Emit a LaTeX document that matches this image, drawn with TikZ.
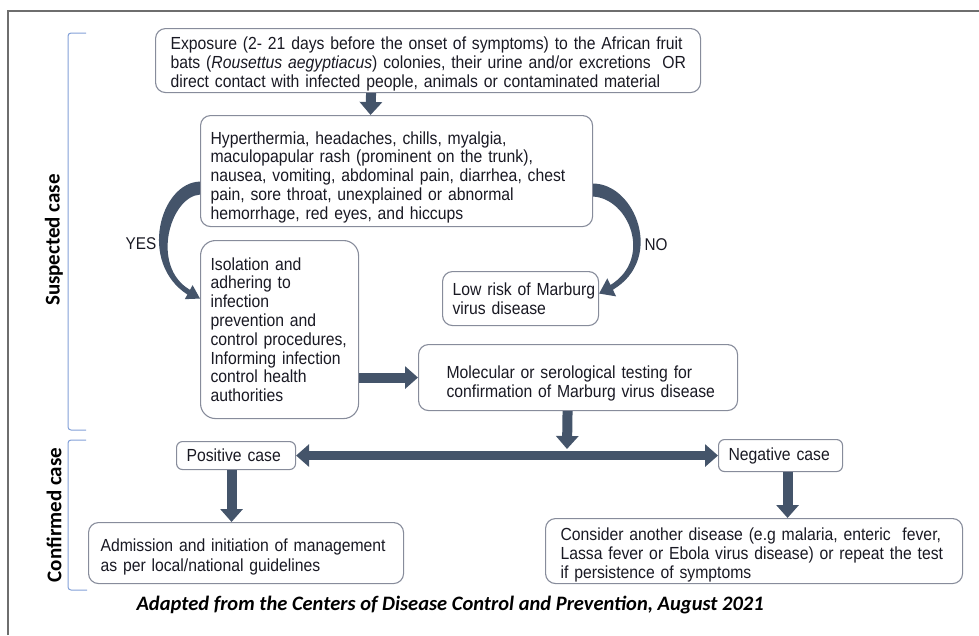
\documentclass[tikz,border=0pt]{standalone}
\usepackage{fontspec}
\setmainfont{Liberation Sans}[FakeStretch=0.90]
\newfontfamily\calib{Carlito}
\usetikzlibrary{arrows.meta,calc}
\definecolor{arr}{RGB}{68,84,106}
\definecolor{bord}{RGB}{135,140,155}
\definecolor{brk}{RGB}{130,160,215}
\definecolor{frm}{RGB}{110,110,110}
\definecolor{txt}{RGB}{25,25,35}
\newcommand\Ln[1]{\mbox{#1}}
\newcommand\Up[1]{\rule{0pt}{#1}}
\tikzset{
  box/.style={draw=bord, line width=1.1pt, rounded corners=10pt, anchor=north west,
    align=left, text=txt, font=\fontsize{17.5}{18.8}\selectfont, inner ysep=0pt},
  fat/.style={draw=arr, line width=10pt, -{Triangle[width=22pt,length=13pt]}},
  dfat/.style={draw=arr, line width=9pt, {Triangle[width=22pt,length=13pt]}-{Triangle[width=22pt,length=13pt]}},
  curv/.style={fill=arr, draw=none},
  brack/.style={draw=brk, line width=1pt, rounded corners=3pt},
  side/.style={rotate=90, text=black, font=\calib\bfseries\fontsize{21}{23}\selectfont},
  lab/.style={text=txt, font=\fontsize{17}{18}\selectfont}
}
\begin{document}
\begin{tikzpicture}[x=1pt,y=-1pt]
\useasboundingbox (0,0) rectangle (979,635);
\draw[frm, line width=2pt] (8,635) -- (8,11) -- (979,11);

% brackets and side labels
\draw[brack] (86,33) -- (68,33) -- (68,430) -- (86,430);
\draw[brack] (86,440) -- (68,440) -- (68,590) -- (87,590);
\node[side] (ls) at (54,240) {Suspected case};
\node[side] (lc) at (54,515) {Confirmed case};

% boxes
\node[box, inner xsep=15pt, text width=515pt, minimum height=64pt] (b1) at (155,28)
 {\Up{19pt}\Ln{Exposure (2- 21 days before the onset of symptoms) to the African fruit}\\
  \Ln{bats (\textit{Rousettus aegyptiacus}) colonies, their urine and/or excretions\ \ OR}\\
  \Ln{direct contact with infected people, animals or contaminated material}};
\node[box, inner xsep=10pt, text width=372pt, minimum height=111pt] (b2) at (200,115)
 {\Up{25pt}\Ln{Hyperthermia, headaches, chills, myalgia,}\\
  \Ln{maculopapular rash (prominent on the trunk),}\\
  \Ln{nausea, vomiting, abdominal pain, diarrhea, chest}\\
  \Ln{pain, sore throat, unexplained or abnormal}\\
  \Ln{hemorrhage, red eyes, and hiccups}};
\node[box, rounded corners=15pt, inner xsep=10pt, text width=138pt, minimum height=178pt] (b3) at (200,240)
 {\Ln{Isolation and}\\ \Ln{adhering to}\\ \Ln{infection}\\ \Ln{prevention and}\\
  \Ln{control procedures,}\\ \Ln{Informing infection}\\ \Ln{control health}\\ \Ln{authorities}};
\node[box, inner xsep=10pt, text width=136pt, minimum height=54pt] (b4) at (442,271)
 {\Ln{Low risk of Marburg}\\ \Ln{virus disease}};
\node[box, inner xsep=28pt, text width=263pt, minimum height=66pt] (b5) at (418,344)
 {\Up{25pt}\Ln{Molecular or serological testing for}\\ \Ln{confirmation of Marburg virus disease}};
\node[box, rounded corners=6pt, inner xsep=10pt, text width=99pt, minimum height=28pt] (pos) at (176,441)
 {\Ln{Positive case}};
\node[box, rounded corners=6pt, inner xsep=10pt, text width=104pt, minimum height=32pt] (neg) at (718,439)
 {\Ln{Negative case}};
\node[box, inner xsep=12pt, text width=291pt, minimum height=61pt,
      font=\fontsize{17.5}{20}\selectfont] (adm) at (88,522)
 {\Up{21pt}\Ln{Admission and initiation of management}\\ \Ln{as per local/national guidelines}};
\node[box, inner xsep=15pt, text width=387pt, minimum height=65pt] (con) at (545,518)
 {\Up{21pt}\Ln{Consider another disease (e.g malaria, enteric\ \ fever,}\\
  \Ln{Lassa fever or Ebola virus disease) or repeat the test}\\
  \Ln{if persistence of symptoms}};

% straight connectors
\draw[fat] ([xshift=-57pt]b1.south) -- ([xshift=-26pt]b2.north);
\draw[fat] (b3.east |- b5.west) -- (b5.west);
\coordinate (jn) at (567,449);
\draw[fat] ([xshift=-10.5pt]b5.south) -- (jn);
\draw[dfat] (pos.east) -- (neg.west);
\draw[fat] ([xshift=-4.5pt]pos.south) -- ([xshift=-14.5pt]adm.north);
\draw[fat] ([xshift=7pt]neg.south) -- ([xshift=33.5pt]con.north);

% curved YES arrow (tapered), from b2 to b3
\begin{scope}[shift={(b2.west)}]
\fill[curv] (0,10.5) .. controls (-40,11.5) and (-62,91.5) .. (-12.6,123.5)
  -- (-15.2,128.1) -- (0,127.5) -- (-7.4,114.1) -- (-10,118.8)
  .. controls (-50,95.5) and (-30,25.5) .. (0,23.5) -- cycle;
\end{scope}
% curved NO arrow (tapered), from b2 to b4
\begin{scope}[shift={(b2.east)}]
\fill[curv] (0,12.5) .. controls (42,12.5) and (72,87.5) .. (19.8,118.7)
  -- (23,125.3) -- (6,122.5) -- (14.2,107.3) -- (17.4,113.9)
  .. controls (60,87.5) and (36,27.5) .. (0,25.5) -- cycle;
\end{scope}
\node[lab] (yes) at (141,244) {YES};
\node[lab] (no) at (656,245) {NO};

\node[anchor=west, text=black, font=\calib\bfseries\itshape\fontsize{20.5}{22}\selectfont] (cap) at (133,605)
 {Adapted from the Centers of Disease Control and Prevention, August 2021};
\end{tikzpicture}
\end{document}
